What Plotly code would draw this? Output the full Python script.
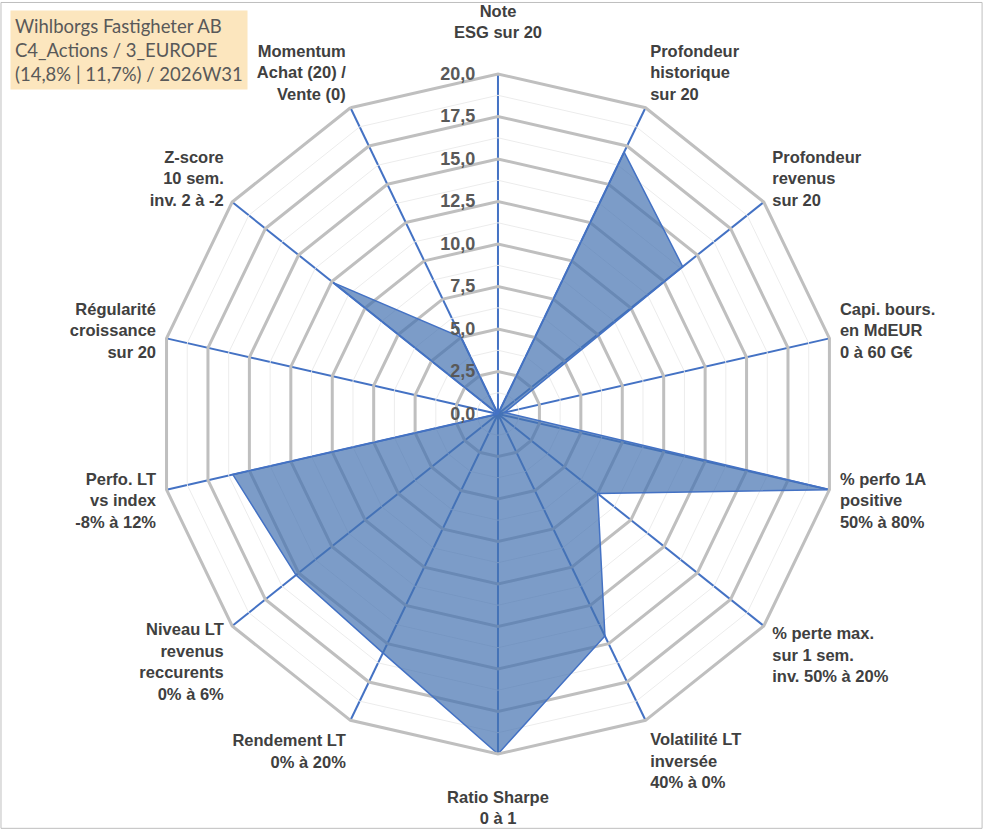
import plotly.graph_objects as go

# axis labels (clockwise from top)
criteres = [
    "Note<br>ESG sur 20<br> ",
    "Profondeur<br>historique<br>sur 20",
    "Profondeur<br>revenus<br>sur 20",
    "Capi. bours.<br>en MdEUR<br>0 à 60 G€",
    "% perfo 1A<br>positive<br>50% à 80%",
    "% perte max.<br>sur 1 sem.<br>inv. 50% à 20%",
    "Volatilité LT<br>inversée<br>40% à 0%",
    " <br>Ratio Sharpe<br>0 à 1",
    "Rendement LT<br>0% à 20%",
    "Niveau LT<br>revenus<br>reccurents<br>0% à 6%",
    "Perfo. LT<br>vs index<br>-8% à 12%",
    "Régularité<br>croissance<br>sur 20",
    "Z-score<br>10 sem.<br>inv. 2 à -2",
    "Momentum<br>Achat (20) /<br>Vente (0)",
]

# scores sur 20
notes = [0, 17.1, 13.9, 0.4, 20, 7.5, 14.5, 20, 15.6, 15.2, 16.0, 0, 12.4, 5.0]

grad_major = [0, 2.5, 5, 7.5, 10, 12.5, 15, 17.5, 20]
grad_minor = [1.25, 3.75, 6.25, 8.75, 11.25, 13.75, 16.25, 18.75]

titre = "Wihlborgs Fastigheter AB<br>C4_Actions / 3_EUROPE<br>(14,8% | 11,7%) / 2026W31"

fig = go.Figure()

# faint minor rings
for g in grad_minor:
    fig.add_trace(go.Scatterpolar(
        r=[g] * (len(criteres) + 1), theta=criteres + criteres[:1],
        mode="lines", line=dict(color="#ECECEC", width=1),
        hoverinfo="skip", showlegend=False,
    ))

fig.add_trace(go.Scatterpolar(
    r=notes + notes[:1], theta=criteres + criteres[:1],
    mode="lines", fill="toself",
    fillcolor="rgba(68,114,176,0.70)",
    line=dict(color="#4472C4", width=1.5),
    showlegend=False,
))

fig.update_layout(
    width=991, height=830,
    margin=dict(l=0, r=0, t=0, b=0),
    paper_bgcolor="white",
    separators=", ",
    font=dict(family="Liberation Sans, Arial", color="#404040"),
    polar=dict(
        domain=dict(x=[0.1594, 0.8456], y=[0.0916, 0.9108]),
        gridshape="linear",
        bgcolor="white",
        radialaxis=dict(
            range=[0, 20], tickvals=grad_major, tickformat=".1f",
            angle=90, tickangle=90, side="counterclockwise",
            showline=False,
            ticks="outside", ticklen=16, tickcolor="rgba(0,0,0,0)",
            gridcolor="#BFBFBF", gridwidth=3,
            tickfont=dict(size=18, color="#595959", weight="bold"),
        ),
        angularaxis=dict(
            direction="clockwise", rotation=90,
            gridcolor="#4472C4", gridwidth=1.5,
            showline=True, linecolor="#BFBFBF", linewidth=3,
            ticks="outside", ticklen=6, tickcolor="rgba(0,0,0,0)",
            tickfont=dict(size=16.5, color="#404040", weight="bold"),
        ),
    ),
    shapes=[dict(type="rect", xref="paper", yref="paper", x0=0.001, y0=0.002,
                 x1=0.991, y1=0.997, line=dict(color="#BFBFBF", width=1))],
    annotations=[dict(
        text=titre, xref="paper", yref="paper", x=0.010, y=0.988,
        xanchor="left", yanchor="top", align="left", showarrow=False,
        bgcolor="#FCE6BE", borderpad=4,
        font=dict(family="Lato", size=18.5, color="#595959"),
    )],
)

fig.write_html("out.html", config={"displayModeBar": False},
               post_script="document.body.style.margin='0';")
